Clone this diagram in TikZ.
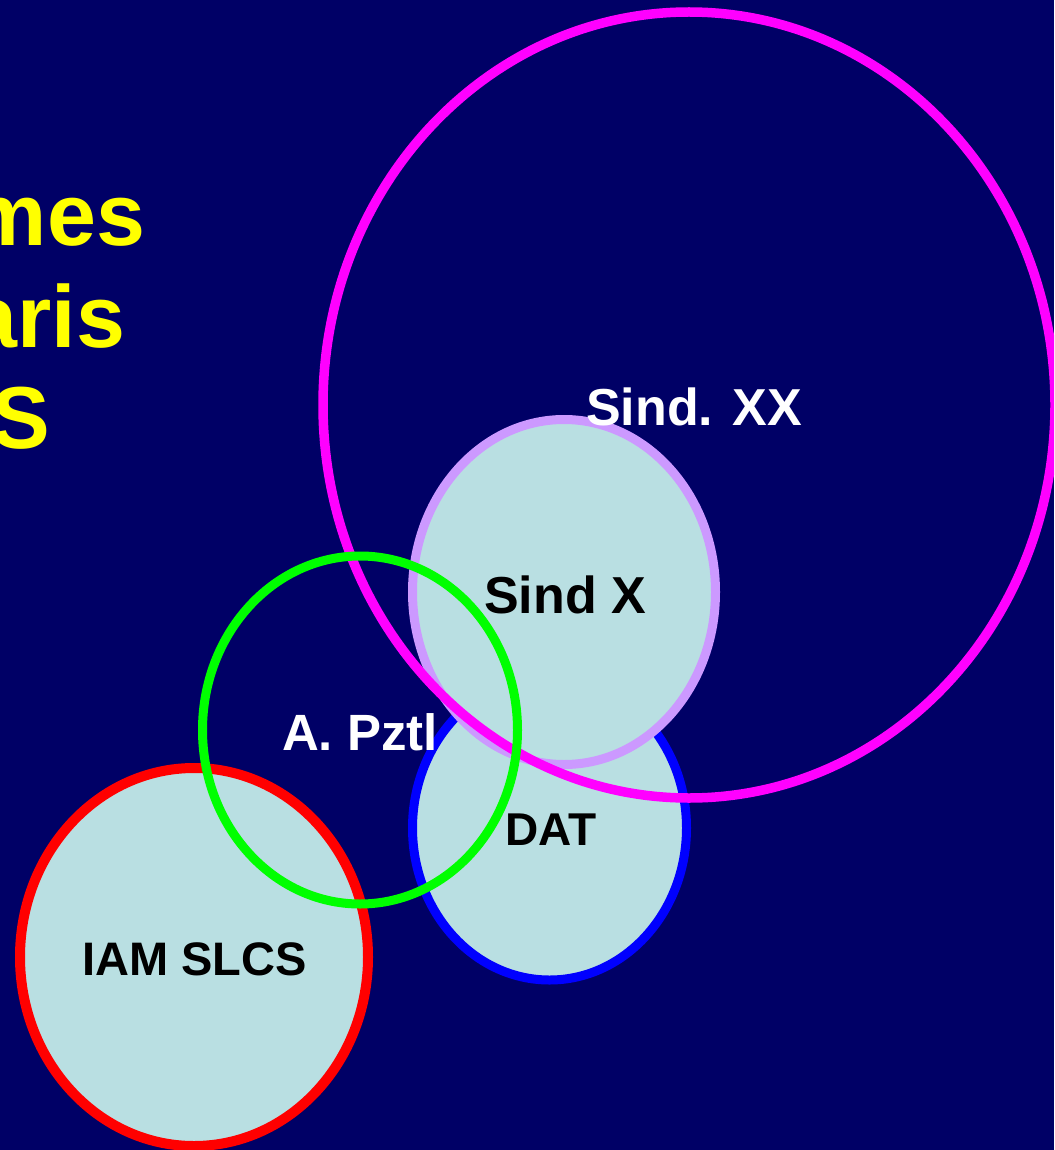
\documentclass[tikz,border=0pt]{standalone}
\usepackage{fontspec}
\setmainfont{Liberation Sans}
\usetikzlibrary{shapes.geometric}
\definecolor{bgnavy}{RGB}{0,0,102}
\definecolor{pale}{RGB}{185,223,226}
\definecolor{lilac}{RGB}{204,153,255}
\definecolor{mag}{RGB}{255,0,255}
\definecolor{lime}{RGB}{0,255,0}
\definecolor{pureblue}{RGB}{0,0,255}
\definecolor{purered}{RGB}{255,0,0}
\definecolor{yel}{RGB}{255,255,0}
\newcommand{\fsz}[1]{\bfseries\fontsize{#1}{#1}\selectfont}
\begin{document}
\begin{tikzpicture}[x=1pt,y=-1pt,
  ring/.style={ellipse, inner sep=0pt, outer sep=0pt, line width=9pt},
  lab/.style={anchor=base, inner sep=0pt, outer sep=0pt},
  side/.style={anchor=base east, inner sep=0pt, outer sep=0pt, text=yel, font=\fsz{88}}]
\useasboundingbox (0,0) rectangle (1054,1150);
\clip (0,0) rectangle (1054,1150);
\fill[bgnavy] (0,0) rectangle (1054,1150);
% side title (cut off at left edge, as in the reference)
\node[side] (t1) at (145,245) {mes};
\node[side] (t2) at (125,347) {aris};
\node[side] (t3) at (50,448) {S};
% circles
\node[ring, draw=purered, fill=pale, line width=10pt, minimum width=348pt, minimum height=378pt] (iam) at (194,957) {};
\node[ring, draw=pureblue, fill=pale, minimum width=274pt, minimum height=304pt] (dat) at (549.5,828) {};
\node[ring, draw=lilac, fill=pale, minimum width=303pt, minimum height=345pt] (sx) at (564,592) {};
\node[ring, draw=mag, line width=9.5pt, minimum width=732pt, minimum height=786pt] (sxx) at (689,405) {};
\node[ring, draw=lime, minimum width=315pt, minimum height=348pt] (apz) at (360,730) {};
% labels
\node[lab, text=white, font=\fsz{52}] (lsxx) at (694,425) {Sind. XX};
\node[lab, text=black, font=\fsz{52}] (lsx) at (565,613) {Sind X};
\node[lab, text=white, font=\fsz{51}] (lapz) at (360,750) {A. Pztl};
\node[lab, text=black, font=\fsz{46}] (ldat) at (551,845) {DAT};
\node[lab, text=black, font=\fsz{47}] (liam) at (194.5,975) {IAM SLCS};
\end{tikzpicture}
\end{document}
